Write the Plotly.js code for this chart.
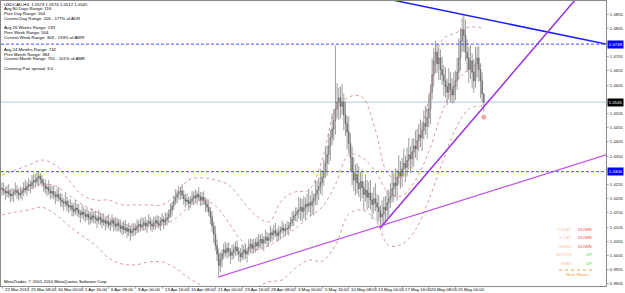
<!DOCTYPE html>
<html><head><meta charset="utf-8">
<script src="https://cdn.plot.ly/plotly-3.0.1.min.js"></script>
<style>html,body{margin:0;padding:0;background:#fff;overflow:hidden}#chart{width:625px;height:293px}</style>
</head><body><div id="chart"></div>
<script>
const headerText = "USDCAD,H4  1.0574 1.0574 1.0512 1.0545";
const infoLines = [
  ["Avg 80 Days Range: 116", 9],
  ["Prev Day Range: 164", 13.5],
  ["Current Day Range: 206 - 177% of ADR", 18.3],
  ["Avg 26 Weeks Range: 233", 27.7],
  ["Prev Week Range: 504", 32.5],
  ["Current Week Range: 309 - 133% of AWR", 37.3],
  ["Avg 24 Months Range: 742", 49.3],
  ["Prev Month Range: 384", 54],
  ["Current Month Range: 750 - 101% of AMR", 58.7],
  ["Currency Pair spread: 3.0", 69]
];
const copyrightText = "MetaTrader, © 2001-2010 MetaQuotes Software Corp.";

const xTickBars = [0,16,32,48,64,80,96,112,128,144,160,176,192,208,224,240,256,272];
const xTickLabels = ["22 Mar 2010","25 Mar 08:00","30 Mar 00:00","1 Apr 16:00","6 Apr 08:00","9 Apr 00:00","13 Apr 16:00","16 Apr 08:00","21 Apr 00:00","23 Apr 16:00","28 Apr 08:00","3 May 00:00","5 May 16:00","10 May 08:00","13 May 00:00","17 May 16:00","20 May 08:00","25 May 00:00"];
const yTickValues = [1.0855,1.0805,1.0705,1.0655,1.0605,1.0505,1.0455,1.0405,1.0355,1.0255,1.0205,1.0155,1.0105,1.0055,1.0005,0.9955,0.9905];

// prices in pips above 1.0000
const openPips = [242,238,232,225,230,222,215,220,228,235,226,218,
224,230,242,236,248,255,250,262,270,265,278,285,
272,260,252,240,245,232,225,230,218,212,220,208,
200,195,188,196,182,175,180,168,160,172,165,155,148,158,150,142,150,138,132,145,
140,135,128,140,132,122,130,118,125,112,120,128,115,108,118,110,100,108,95,102,90,98,85,92,100,95,108,115,105,112,120,110,118,125,115,108,120,128,118,112,125,132,122,130,
138,150,165,180,195,210,220,228,232,218,205,195,200,188,195,205,215,208,220,212,200,210,198,185,175,
160,140,110,80,40,10,
-30,-10,10,25,15,30,20,5,15,25,35,20,10,0,15,25,10,20,35,45,30,40,50,38,55,62,48,60,70,58,65,85,78,92,84,75,88,95,102,92,98,100,110,120,132,145,150,
160,165,175,160,172,185,178,190,182,195,205,220,235,248,262,280,300,330,360,390,420,
450,480,520,
545,560,530,545,500,470,440,
400,350,300,270,290,260,240,265,245,220,235,210,225,200,185,205,190,
175,160,140,150,175,165,190,
205,215,240,260,250,280,300,285,310,330,315,340,360,345,370,390,380,410,430,420,445,470,460,490,
520,580,640,690,720,680,700,660,
640,620,600,580,610,590,570,600,620,650,
700,760,800,780,
720,700,660,690,650,620,680,700,
660,620,574];
const highPips = [262,262,246,251,256,238,242,240,262,253,242,248,
244,263,272,264,278,270,288,291,292,298,304,296,
288,276,272,258,270,251,250,252,232,241,246,224,
222,206,222,213,200,204,192,189,200,188,186,166,184,175,168,174,162,159,172,160,
162,146,166,157,148,154,142,145,150,136,150,138,140,137,134,132,122,127,130,116,120,108,118,119,118,132,128,135,140,136,140,130,150,141,132,142,142,147,144,140,154,142,156,157,
168,188,194,215,238,236,250,246,256,235,222,224,212,215,232,230,238,232,246,229,228,232,210,205,202,
175,161,124,108,61,30,
16,26,47,54,48,52,31,42,45,54,58,34,31,44,42,46,32,62,65,62,64,64,71,82,78,82,72,96,87,84,110,100,113,120,100,110,108,128,119,116,126,124,141,160,162,174,174,
212,208,204,214,208,222,240,216,234,224,268,270,280,308,306,342,386,392,434,447,505,
521,745,611,
596,600,609,575,547,497,495,
436,389,351,326,330,319,300,307,267,290,271,264,271,226,245,259,220,
217,182,200,211,214,236,236,
260,299,295,312,307,358,338,349,381,356,385,419,390,417,417,445,451,469,484,476,515,532,525,572,
607,700,736,760,750,736,730,705,
675,667,627,665,651,629,651,656,700,769,
805,840,851,835,
766,739,746,716,695,739,740,742,
682,650,574];
const lowPips = [216,217,199,209,208,191,198,193,216,205,198,205,
199,215,223,215,232,223,238,241,246,251,253,255,
247,229,222,213,218,203,206,203,186,195,195,177,
176,161,176,161,154,161,143,143,149,143,138,121,136,129,122,129,113,115,121,117,
118,101,116,111,102,109,93,103,99,91,104,89,94,89,90,85,77,79,83,67,74,57,72,73,76,83,85,89,93,91,94,85,106,95,88,95,97,103,99,91,108,97,110,111,
120,137,141,165,183,187,202,201,204,183,174,181,163,173,183,183,190,183,198,179,182,183,159,157,145,
115,88,49,22,-15,-66,
-54,-37,-7,1,-7,0,-25,-10,-7,4,5,-17,-19,-13,-9,-8,-19,6,13,10,13,15,21,25,31,30,21,46,37,36,51,53,61,71,51,58,61,82,71,72,83,75,93,107,109,126,123,
136,128,126,136,128,148,158,142,152,146,182,182,200,222,216,250,278,286,326,338,394,
410,430,487,
482,488,501,446,426,378,364,
300,252,232,217,223,211,196,206,163,194,165,172,167,132,153,161,126,
121,108,100,110,122,137,142,
173,191,196,211,198,254,240,247,282,262,283,316,296,311,318,349,340,372,387,372,413,431,416,456,
468,554,600,647,647,622,623,606,
566,561,535,554,545,540,542,552,588,626,
656,721,723,689,
650,612,627,592,578,596,631,616,
558,544,512];
const closePips = [238,232,225,230,222,215,220,228,235,226,218,224,
230,242,236,248,255,250,262,270,265,278,285,272,
260,252,240,245,232,225,230,218,212,220,208,200,
195,188,196,182,175,180,168,160,172,165,155,148,158,150,142,150,138,132,145,140,
135,128,140,132,122,130,118,125,112,120,128,115,108,118,110,100,108,95,102,90,98,85,92,100,95,108,115,105,112,120,110,118,125,115,108,120,128,118,112,125,132,122,130,138,
150,165,180,195,210,220,228,232,218,205,195,200,188,195,205,215,208,220,212,200,210,198,185,175,160,
140,110,80,40,10,-30,
-10,10,25,15,30,20,5,15,25,35,20,10,0,15,25,10,20,35,45,30,40,50,38,55,62,48,60,70,58,65,85,78,92,84,75,88,95,102,92,98,100,110,120,132,145,150,160,
165,175,160,172,185,178,190,182,195,205,220,235,248,262,280,300,330,360,390,420,450,
480,520,545,
560,530,545,500,470,440,400,
350,300,270,290,260,240,265,245,220,235,210,225,200,185,205,190,175,
160,140,150,175,165,190,205,
215,240,260,250,280,300,285,310,330,315,340,360,345,370,390,380,410,430,420,445,470,460,490,520,
580,640,690,720,680,700,660,640,
620,600,580,610,590,570,600,620,650,700,
760,800,780,720,
700,660,690,650,620,680,700,660,
620,574,545];

// Bollinger bands, read every 8 bars (pips)
const bandBars = [0,8,16,24,32,40,48,56,64,72,80,88,96,104,112,120,128,136,144,152,160,168,176,184,192,200,208,216,224,232,240,248,256,264,272,280,288];
const bandUpperPips = [288,306,323,341,323,271,218,200,200,183,183,183,183,218,271,278,271,253,200,148,123,200,229,235,341,517,563,563,447,288,281,376,552,763,788,809,806];
const bandMiddlePips = [235,232,238,255,250,218,185,160,140,118,105,108,112,135,175,200,180,120,55,25,40,68,100,140,175,255,360,350,300,225,215,270,370,510,610,660,675];
const bandLowerPips = [148,158,165,175,150,110,75,42,-4,-25,-28,-18,-18,-39,-74,-102,-134,-145,-134,-109,-88,-81,-39,-11,-15,40,150,165,130,40,45,95,200,330,450,520,531];

const levelLines = [1.0749, 1.0300];
const bidPrice = 1.0545;
const trendBlueBars = [234.5, 362.3];
const trendBluePrice = [1.0904, 1.0749];
const trendSteepBars = [226.8, 343.7];
const trendSteepPrice = [1.0102, 1.0904];
const trendShallowBars = [129.6, 362.3];
const trendShallowPrice = [0.9929, 1.0359];
const signalBars = [289];
const signalPrice = [1.0492];

const movesLabels = ["TODAY","Y-DAY","WEEK","MONTH","YEAR"];
const movesValues = ["DOWN","DOWN","DOWN","UP","UP"];
const movesRowsY = [229,237.5,246,254.5,263];

const toPrice = a => a.map(v => 1 + v/10000);
const bars = closePips.map((_, i) => i);

const W = 605, H = 285;
const px = x => (x - 1) / W;
const py = y => 1 - (y - 1) / H;
const FONT = 'Liberation Sans';
const FS = 4.3;

const traces = [
  {type:'candlestick', x:bars, open:toPrice(openPips), high:toPrice(highPips), low:toPrice(lowPips), close:toPrice(closePips),
   increasing:{line:{color:'#5c5c5c', width:0.6}, fillcolor:'#c8c8c8'},
   decreasing:{line:{color:'#5c5c5c', width:0.6}, fillcolor:'#7a7a7a'},
   whiskerwidth:0, hoverinfo:'skip'},
  {type:'scatter', mode:'lines', x:bandBars, y:toPrice(bandUpperPips), line:{color:'#c98585', width:0.8, dash:'dot', shape:'spline'}, hoverinfo:'skip'},
  {type:'scatter', mode:'lines', x:bandBars, y:toPrice(bandMiddlePips), line:{color:'#c98585', width:0.8, dash:'dot', shape:'spline'}, hoverinfo:'skip'},
  {type:'scatter', mode:'lines', x:bandBars, y:toPrice(bandLowerPips), line:{color:'#c98585', width:0.8, dash:'dot', shape:'spline'}, hoverinfo:'skip'},
  {type:'scatter', mode:'lines', x:trendBlueBars, y:trendBluePrice, line:{color:'#2020ff', width:1.5}, hoverinfo:'skip'},
  {type:'scatter', mode:'lines', x:trendSteepBars, y:trendSteepPrice, line:{color:'#9a2ee0', width:1.5}, hoverinfo:'skip'},
  {type:'scatter', mode:'lines', x:trendShallowBars, y:trendShallowPrice, line:{color:'#c050e8', width:1.2}, hoverinfo:'skip'},
  {type:'scatter', mode:'markers', x:signalBars, y:signalPrice, marker:{symbol:'circle', size:4, color:'#f7b0b0', line:{color:'#e07070', width:0.6}}, hoverinfo:'skip'}
];

const shapes = [
  {type:'line', xref:'paper', x0:0, x1:1, yref:'y', y0:bidPrice, y1:bidPrice, line:{color:'#b4c8dc', width:1}, layer:'below'},
  ...levelLines.map(v => ({type:'line', xref:'paper', x0:0, x1:1, yref:'y', y0:v, y1:v, line:{color:'#4a4aff', width:1, dash:'3px,2px'}})),
  {type:'line', xref:'paper', yref:'paper', x0:px(559), x1:px(594), y0:py(270), y1:py(270), line:{color:'#f0a040', width:1, dash:'dot'}}
];

const ann = [];
const txt = (x, y, t, color, anchor) => ({xref:'paper', yref:'paper', x:px(x), y:py(y), text:t, showarrow:false, xanchor:anchor || 'left', yanchor:'middle', font:{family:FONT, size:FS, color:color || '#000'}});
ann.push(txt(2, 4.3, headerText));
infoLines.forEach(([t, y]) => ann.push(txt(2, y, t)));
ann.push(txt(2, 281.5, copyrightText));
movesLabels.forEach((t, k) => {
  ann.push(txt(574, movesRowsY[k], t, '#f5c8a8', 'right'));
  ann.push(txt(594, movesRowsY[k], movesValues[k], movesValues[k] === 'UP' ? '#33e633' : '#ff3434', 'right'));
});
ann.push(txt(577, 274.5, 'Main Moves', '#f0a040', 'center'));
xTickBars.forEach((b, k) => ann.push({xref:'x', yref:'paper', x:b, y:py(289.6), xanchor:'left', yanchor:'middle', xshift:0.5,
  text:xTickLabels[k], showarrow:false, font:{family:FONT, size:FS, color:'#000'}}));
[[1.0749,'#0000ff'],[bidPrice,'#000000'],[1.0300,'#0000ff']].forEach(([v, c]) => ann.push({
  xref:'paper', yref:'y', x:1, y:v, xanchor:'left', yanchor:'middle', xshift:1, text:v.toFixed(4), showarrow:false,
  bgcolor:c, borderpad:0.8, font:{family:FONT, size:FS, color:'#fff'}}));

const layout = {
  width:625, height:293,
  margin:{l:1, r:19, t:1, b:7, pad:0},
  paper_bgcolor:'#fff', plot_bgcolor:'#fff',
  showlegend:false,
  xaxis:{range:[-0.6, 362.3], rangeslider:{visible:false}, tickvals:xTickBars, showticklabels:false,
    ticks:'outside', ticklen:2, tickcolor:'#808080', tickwidth:0.6,
    showgrid:false, zeroline:false,
    showline:true, linecolor:'#8a8a8a', linewidth:1, mirror:true, fixedrange:true},
  yaxis:{side:'right', range:[0.98976, 1.09008], tickvals:yTickValues, ticktext:yTickValues.map(v => v.toFixed(4)),
    ticks:'outside', ticklen:2, tickcolor:'#808080', tickwidth:0.6,
    tickfont:{family:FONT, size:FS, color:'#202020'}, showgrid:false, zeroline:false,
    showline:true, linecolor:'#8a8a8a', linewidth:1, mirror:true, fixedrange:true},
  shapes:shapes,
  annotations:ann
};
Plotly.newPlot('chart', traces, layout, {staticPlot:true, displayModeBar:false});
</script>
</body></html>
